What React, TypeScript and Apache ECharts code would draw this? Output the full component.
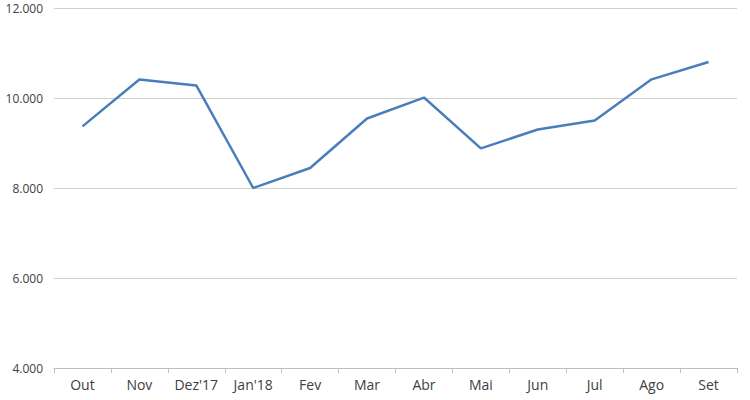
import React, { useEffect, useRef } from "react";
import * as echarts from "echarts";

const categories = ["Out", "Nov", "Dez'17", "Jan'18", "Fev", "Mar", "Abr", "Mai", "Jun", "Jul", "Ago", "Set"];
const values = [9370, 10410, 10280, 8000, 8445, 9545, 10010, 8880, 9300, 9500, 10415, 10800];

const fmt = (v: number) => v.toLocaleString("de-DE", { minimumFractionDigits: 3 }).replace(",", ".").replace(/^(\d+)\.(\d{3})$/, "$1.$2");

export default function App() {
  const ref = useRef<HTMLDivElement>(null);
  useEffect(() => {
    const chart = echarts.init(ref.current!, null, { renderer: "svg" });
    chart.setOption({
      animation: false,
      backgroundColor: "#ffffff",
      grid: { left: 54, right: 13, top: 8, bottom: 32, containLabel: false },
      xAxis: {
        type: "category",
        data: categories,
        boundaryGap: true,
        axisLine: { lineStyle: { color: "#bfbfbf", width: 1 } },
        axisTick: { show: true, length: 5, lineStyle: { color: "#bfbfbf" } },
        axisLabel: { color: "#404040", fontSize: 14, fontFamily: "Open Sans", margin: 9 },
      },
      yAxis: {
        type: "value",
        min: 4000,
        max: 12000,
        interval: 2000,
        axisLine: { show: false },
        axisTick: { show: false },
        splitLine: { lineStyle: { color: "#d0d0d0", width: 1 } },
        axisLabel: {
          color: "#404040",
          fontSize: 12,
          fontFamily: "Open Sans",
          margin: 11,
          formatter: (v: number) => {
            const s = String(Math.round(v));
            return s.replace(/\B(?=(\d{3})+(?!\d))/g, ".");
          },
        },
      },
      series: [
        {
          type: "line",
          data: values,
          symbol: "none",
          lineStyle: { color: "#4a7ebb", width: 2.5 },
        },
      ],
    });
    return () => chart.dispose();
  }, []);
  return <div ref={ref} style={{ position: "absolute", left: 0, top: 0, width: 750, height: 400 }} />;
}
